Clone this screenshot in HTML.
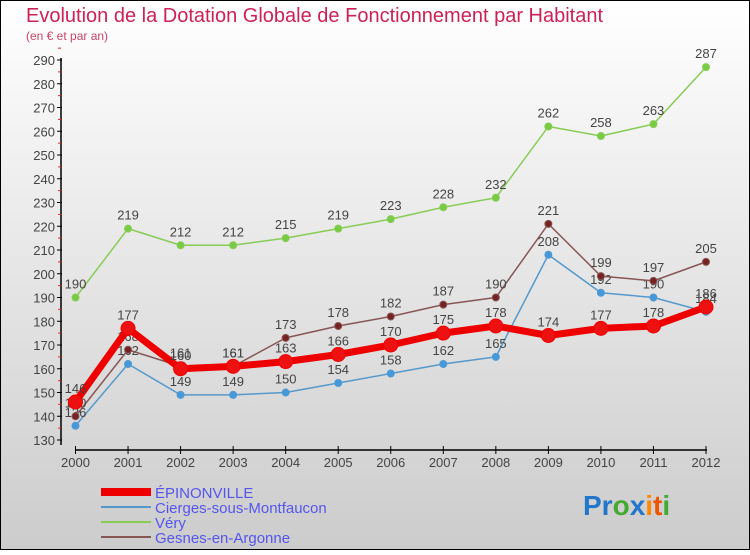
<!DOCTYPE html>
<html><head><meta charset="utf-8"><style>
body{margin:0}
#c{width:750px;height:550px;position:relative;font-family:"Liberation Sans",sans-serif}
</style></head><body>
<div id="c">
<svg id="s" width="750" height="550" xmlns="http://www.w3.org/2000/svg">
<defs><linearGradient id="bg" x1="0" y1="0" x2="0" y2="1"><stop offset="0" stop-color="#ffffff"/><stop offset="1" stop-color="#cccccc"/></linearGradient></defs>
<rect x="0.5" y="0.5" width="749" height="549" fill="url(#bg)" stroke="#000"/>
<text x="26" y="22" font-size="20" fill="#cc2255">Evolution de la Dotation Globale de Fonctionnement par Habitant</text>
<text x="26" y="40" font-size="12" fill="#cc4466">(en € et par an)</text>
<g id="axes"></g><g id="plot"></g>
<g>
<line x1="101" y1="492" x2="151" y2="492" stroke="#ee0000" stroke-width="8"/>
<text x="155" y="498" font-size="15" fill="#5555ee">ÉPINONVILLE</text>
<line x1="101" y1="507" x2="151" y2="507" stroke="#5599cc" stroke-width="2"/>
<text x="155" y="513" font-size="15" fill="#5555ee">Cierges-sous-Montfaucon</text>
<line x1="101" y1="522" x2="151" y2="522" stroke="#88cc55" stroke-width="2"/>
<text x="155" y="528" font-size="15" fill="#5555ee">Véry</text>
<line x1="101" y1="537" x2="151" y2="537" stroke="#885555" stroke-width="2"/>
<text x="155" y="543" font-size="15" fill="#5555ee">Gesnes-en-Argonne</text>
</g>
<text x="583" y="515" font-size="28" font-weight="bold"><tspan fill="#2277cc">Pr</tspan><tspan fill="#44aa33">o</tspan><tspan fill="#2277cc">x</tspan><tspan fill="#ff8800">i</tspan><tspan fill="#ee5500">t</tspan><tspan fill="#44aa33">i</tspan></text>
</svg></div>
<script>
const years=[2000,2001,2002,2003,2004,2005,2006,2007,2008,2009,2010,2011,2012];
const epinonville=[146,177,160,161,163,166,170,175,178,174,177,178,186];
const cierges=[136,162,149,149,150,154,158,162,165,208,192,190,184];
const very=[190,219,212,212,215,219,223,228,232,262,258,263,287];
const gesnes=[140,168,161,161,173,178,182,187,190,221,199,197,205];
const yTicks=[130,140,150,160,170,180,190,200,210,220,230,240,250,260,270,280,290];
const NS="http://www.w3.org/2000/svg";
const xS=i=>75.5+i*(706-75.5)/(years.length-1);
const yS=v=>440-(v-130)*380/160;
function mk(t,a,p){const e=document.createElementNS(NS,t);for(const k in a)e.setAttribute(k,a[k]);p.appendChild(e);return e;}
const ax=document.getElementById('axes'),pl=document.getElementById('plot');
const yl=mk('line',{x1:61,y1:yS(290)-2,x2:61,y2:445,stroke:'#000','stroke-width':1.5},ax);


yTicks.forEach(v=>{
 mk('line',{x1:57,y1:yS(v),x2:62,y2:yS(v),stroke:'#000'},ax);
 mk('line',{x1:58,y1:yS(v+5),x2:61,y2:yS(v+5),stroke:'#ee2222'},ax);
 const t=mk('text',{x:55,y:yS(v)+5,'font-size':13,'text-anchor':'end',fill:'#444'},ax);t.textContent=v;
 
 
});
const xl=mk('line',{x1:75,y1:450,x2:707,y2:450,stroke:'#000','stroke-width':1.5},ax);


years.forEach((y,i)=>{
 mk('line',{x1:xS(i),y1:446,x2:xS(i),y2:454,stroke:'#000'},ax);
 const t=mk('text',{x:xS(i),y:467,'font-size':13,'text-anchor':'middle',fill:'#444'},ax);t.textContent=y;
 
 
});
function series(d,col,dot,w,r,name){
 const g=mk('g',{},pl);
 
 
 mk('polyline',{points:d.map((v,i)=>xS(i)+','+yS(v)).join(' '),fill:'none',stroke:col,'stroke-width':w,'stroke-linejoin':'round'},g);
 d.forEach((v,i)=>{
  const c=mk('circle',{cx:xS(i),cy:yS(v),r:r,fill:dot,stroke:col,'stroke-width':1},g);
  
  
  const t=mk('text',{x:xS(i),y:yS(v)-9,'font-size':13,'text-anchor':'middle',fill:'#444'},g);t.textContent=v;
  
  
 });
}
series(very,'#88cc55','#77cc44',1.5,3.5,'series-very');
series(cierges,'#5599cc','#4499dd',1.5,3.5,'series-cierges');
series(gesnes,'#885555','#772222',1.5,3.5,'series-gesnes');
series(epinonville,'#ee0000','#ee1111',7,7,'series-epinonville');
</script>
</body></html>
